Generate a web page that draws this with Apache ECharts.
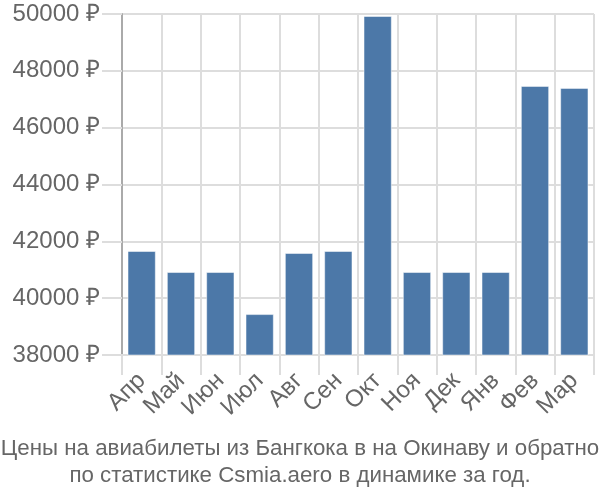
<!DOCTYPE html>
<html><head><meta charset="utf-8">
<script src="https://cdn.jsdelivr.net/npm/echarts@6/dist/echarts.min.js"></script>
<style>html,body{margin:0;padding:0;background:#fff}#c{width:600px;height:500px}</style>
</head><body><div id="c"></div>
<script>
const categories = ['Апр','Май','Июн','Июл','Авг','Сен','Окт','Ноя','Дек','Янв','Фев','Мар'];
const prices = [41660, 40920, 40920, 39440, 41590, 41660, 49930, 40920, 40920, 40920, 47470, 47400];
const yTicks = [38000, 40000, 42000, 44000, 46000, 48000, 50000];
const titleLines = ['Цены на авиабилеты из Бангкока в на Окинаву и обратно', 'по статистике Csmia.aero в динамике за год.'];

const font = 'Liberation Sans, Arial, sans-serif';
const chart = echarts.init(document.getElementById('c'), null, {renderer: 'canvas'});
chart.setOption({
  animation: false,
  title: {
    text: titleLines.join('\n'),
    left: 300, top: 435, padding: 0, textAlign: 'center',
    textStyle: {fontFamily: font, fontSize: 22.3, fontWeight: 'normal', color: '#666', lineHeight: 27}
  },
  grid: {left: 122, right: 6, top: 14, bottom: 145, containLabel: false},
  xAxis: {
    type: 'category', data: categories,
    axisLine: {show: true, lineStyle: {color: '#ddd', width: 2}},
    axisTick: {show: true, interval: 0, length: 20, lineStyle: {color: '#ddd', width: 2}},
    splitLine: {show: true, interval: 0, lineStyle: {color: '#ddd', width: 2}},
    axisLabel: {rotate: 45, interval: 0, hideOverlap: false, margin: 22, fontFamily: font, fontSize: 24, color: '#666'}
  },
  yAxis: {
    type: 'value', min: yTicks[0], max: yTicks[yTicks.length-1], interval: 2000,
    axisLine: {show: true, lineStyle: {color: '#aaa', width: 2}},
    axisTick: {show: true, length: 20, lineStyle: {color: '#ddd', width: 2}},
    splitLine: {show: true, lineStyle: {color: '#ddd', width: 2}},
    axisLabel: {margin: 22, fontFamily: font, fontSize: 24, color: '#666', formatter: v => v + ' ₽'}
  },
  series: [{
    type: 'bar', data: prices, barWidth: '72%',
    itemStyle: {color: '#4c78a8', borderColor: 'rgba(255,255,255,0.5)', borderWidth: 1}
  }]
});
</script></body></html>
